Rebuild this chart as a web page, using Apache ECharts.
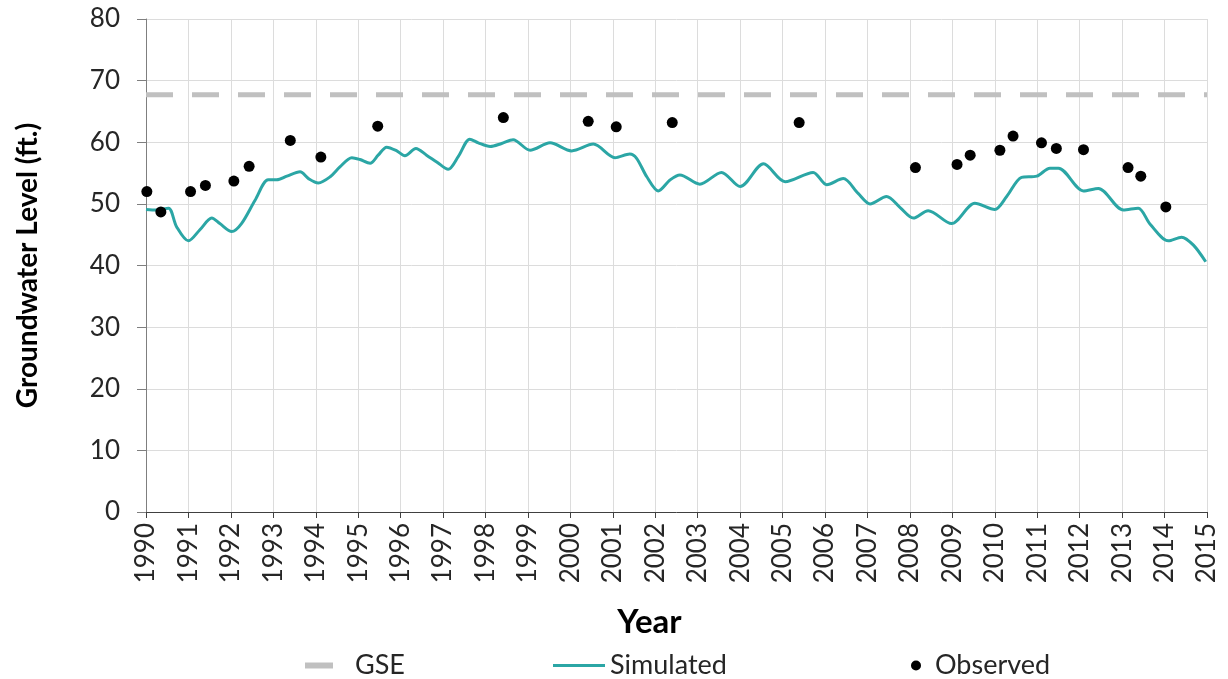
<!DOCTYPE html>
<html>
<head>
<meta charset="utf-8">
<script src="https://cdn.jsdelivr.net/npm/echarts@6/dist/echarts.min.js"></script>
<style>
  html, body { margin: 0; padding: 0; background: #fff; }
  #chart { width: 1228px; height: 679px; }
</style>
</head>
<body>
<div id="chart"></div>
<script>
// ground surface elevation (flat)
var gseYears = [1990, 2015];
var gseLevel = [67.7, 67.7];

// simulated groundwater level
var simYears = [1990.00, 1990.25, 1990.53, 1990.72, 1991.00, 1991.27, 1991.55, 1991.74, 1992.02, 1992.25,
    1992.57, 1992.88, 1993.08, 1993.32, 1993.63, 1993.83, 1994.06, 1994.34, 1994.57, 1994.85,
    1995.04, 1995.28, 1995.47, 1995.67, 1995.91, 1996.10, 1996.36, 1996.61, 1996.85, 1997.12,
    1997.36, 1997.63, 1997.83, 1998.11, 1998.38, 1998.65, 1999.05, 1999.52, 2000.03, 2000.54,
    2001.05, 2001.40, 2001.56, 2001.80, 2002.07, 2002.35, 2002.58, 2003.05, 2003.56, 2004.00,
    2004.55, 2005.06, 2005.72, 2006.04, 2006.43, 2006.78, 2007.06, 2007.45, 2007.77, 2008.08,
    2008.43, 2008.98, 2009.53, 2010.00, 2010.28, 2010.63, 2010.99, 2011.30, 2011.50, 2012.09,
    2012.44, 2013.03, 2013.38, 2013.66, 2014.09, 2014.40, 2014.68, 2014.97];
var simLevel = [49.1, 49.0, 49.3, 46.3, 44.0, 45.8, 47.7, 46.8, 45.5, 46.8,
    50.6, 53.9, 53.9, 54.5, 55.2, 54.1, 53.4, 54.4, 56.0, 57.5,
    57.2, 56.6, 57.9, 59.2, 58.6, 57.8, 59.0, 57.9, 56.8, 55.6,
    57.7, 60.5, 59.9, 59.3, 59.8, 60.4, 58.7, 59.9, 58.6, 59.7,
    57.5, 58.1, 57.4, 54.4, 52.1, 53.9, 54.7, 53.2, 55.1, 52.8,
    56.5, 53.6, 55.1, 53.1, 54.1, 51.7, 50.0, 51.2, 49.4, 47.7,
    48.9, 46.8, 50.1, 49.1, 51.2, 54.3, 54.5, 55.8, 55.8, 52.1,
    52.5, 49.0, 49.3, 46.7, 44.0, 44.6, 43.3, 40.6];

// observed groundwater level
var obsYears = [1990.02, 1990.35, 1991.05, 1991.40, 1992.07, 1992.43, 1993.40, 1994.12, 1995.46, 1998.42,
    2000.42, 2001.08, 2002.40, 2005.39, 2008.13, 2009.11, 2009.42, 2010.12, 2010.43, 2011.10,
    2011.45, 2012.09, 2013.14, 2013.44, 2014.03];
var obsLevel = [52.0, 48.7, 52.0, 53.0, 53.7, 56.1, 60.3, 57.6, 62.6, 64.0,
    63.4, 62.5, 63.2, 63.2, 55.9, 56.4, 57.9, 58.7, 61.0, 59.9,
    59.0, 58.8, 55.9, 54.5, 49.5];

function pairs(xs, ys) {
    var out = [];
    for (var i = 0; i < xs.length; i++) out.push([xs[i], ys[i]]);
    return out;
}

var font = 'Lato, "Open Sans", sans-serif';
var legendText = { fontFamily: font, fontSize: 27, color: '#262626' };

var option = {
    animation: false,
    textStyle: { fontFamily: font },
    grid: { left: 146, right: 21, top: 19, bottom: 167 },
    legend: [
        {
            data: [{ name: 'GSE', icon: 'rect' }],
            left: 300, top: 647,
            itemWidth: 28, itemHeight: 6,
            textStyle: Object.assign({ padding: [0, 0, 0, 17] }, legendText)
        },
        {
            data: [{ name: 'Simulated', icon: 'rect' }],
            left: 548, top: 647,
            itemWidth: 52, itemHeight: 3,
            textStyle: legendText
        },
        {
            data: [{ name: 'Observed', icon: 'circle' }],
            left: 906, top: 647,
            itemWidth: 10, itemHeight: 10,
            textStyle: Object.assign({ padding: [0, 0, 0, 9] }, legendText)
        }
    ],
    xAxis: {
        type: 'value',
        min: 1990, max: 2015, interval: 1,
        name: 'Year',
        nameLocation: 'middle',
        nameGap: 94,
        nameTextStyle: {
            fontFamily: font, fontSize: 33, fontWeight: 'bold', color: '#000',
            padding: [0, 54, 0, 0]
        },
        axisLine: { lineStyle: { color: '#404040', width: 1 } },
        axisTick: { length: 6, lineStyle: { color: '#404040' } },
        axisLabel: {
            rotate: 90, margin: 11,
            fontFamily: font, fontSize: 26, color: '#262626',
            formatter: function (v) { return String(v); }
        },
        splitLine: { show: true, lineStyle: { color: '#dcdcdc', width: 1 } }
    },
    yAxis: {
        type: 'value',
        min: 0, max: 80, interval: 10,
        name: 'Groundwater Level (ft.)',
        nameLocation: 'middle',
        nameGap: 104,
        nameTextStyle: { fontFamily: font, fontSize: 28, fontWeight: 'bold', color: '#000' },
        axisLine: { show: true, lineStyle: { color: '#7f7f7f', width: 1 } },
        axisTick: { show: true, length: 9, lineStyle: { color: '#7f7f7f' } },
        axisLabel: { margin: 26, fontFamily: font, fontSize: 26, color: '#262626' },
        splitLine: { show: true, lineStyle: { color: '#dcdcdc', width: 1 } }
    },
    series: [
        {
            name: 'GSE',
            type: 'line',
            color: '#c0c0c0',
            showSymbol: false,
            lineStyle: { width: 5, type: [27, 19], color: '#c0c0c0' },
            data: pairs(gseYears, gseLevel)
        },
        {
            name: 'Simulated',
            type: 'line',
            color: '#2ba6a5',
            showSymbol: false,
            smooth: 0.3,
            lineStyle: { width: 3, color: '#2ba6a5' },
            data: pairs(simYears, simLevel)
        },
        {
            name: 'Observed',
            type: 'scatter',
            color: '#000',
            symbolSize: 11,
            itemStyle: { opacity: 1 },
            data: pairs(obsYears, obsLevel),
            z: 5
        }
    ]
};

var myChart = echarts.init(document.getElementById('chart'));
myChart.setOption(option);
</script>
</body>
</html>
